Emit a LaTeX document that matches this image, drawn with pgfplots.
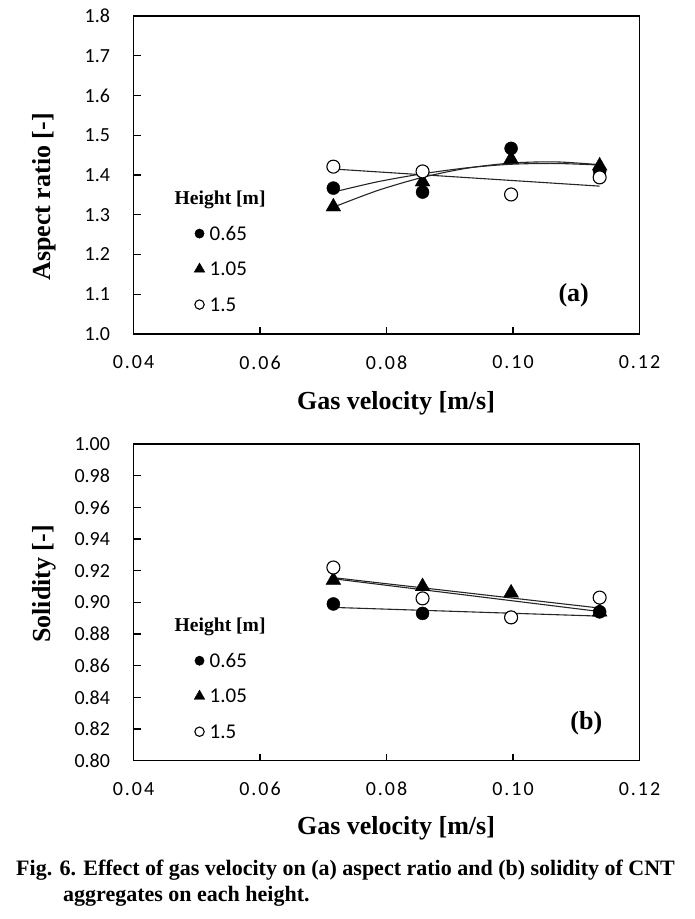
\documentclass[border=0pt]{standalone}
\usepackage{fontspec}
\setmainfont{Liberation Serif}
\newfontfamily\carl{Carlito}
\newfontfamily\carlx[LetterSpace=10]{Carlito}
\usepackage{pgfplots}
\pgfplotsset{compat=1.18}
\begin{document}
\begin{tikzpicture}
\useasboundingbox (0pt,0pt) rectangle (694pt,919pt);
\pgfplotsset{
  circ/.style={mark=*, mark size=6.5pt, mark options={fill=black, draw=black}},
  tri/.style={mark=triangle*, mark size=8.5pt, mark options={fill=black, draw=black}},
  ocirc/.style={mark=*, mark size=6.5pt, mark options={fill=white, draw=black, line width=1.1pt}},
  trend/.style={no marks, black!85, line width=1.1pt},
  common/.style={
    scale only axis, width=506pt,
    xmin=0.04, xmax=0.12, xtick={0.04,0.06,0.08,0.10,0.12},
    xtick pos=bottom, ytick pos=left, tick align=inside,
    major tick length=7pt,
    axis line style={line width=1.3pt, black},
    every tick/.style={line width=1.3pt, black},
    x tick label style={font=\carlx\fontsize{20}{24}\selectfont, yshift=-18pt,
      /pgf/number format/.cd, fixed, fixed zerofill, precision=2, assume math mode=true},
    legend style={draw=none, fill=none, font=\carl\fontsize{21}{25}\selectfont,
      row sep=17.5pt, inner sep=0pt, cells={anchor=west},
      nodes={inner sep=0pt, text height=14pt, text depth=4pt}},
    legend image code/.code={\draw[#1, every mark/.append style={scale=0.72}] plot coordinates {(0pt,1.5pt)}; \path (10pt,1.5pt);},
  }
}
% ---------- (a) ----------
\begin{axis}[common, at={(133.5pt,585pt)}, anchor=south west, height=318pt,
  ymin=1.0, ymax=1.8, ytick={1.0,1.1,...,1.8},
  y tick label style={font=\carl\fontsize{20}{24}\selectfont, xshift=-20pt,
    /pgf/number format/.cd, fixed, fixed zerofill, precision=1, assume math mode=true},
  legend style={at={(axis description cs:0.1196,0.340)}, anchor=north west}]
\addlegendimage{only marks, circ}\addlegendentry{0.65}
\addlegendimage{only marks, tri}\addlegendentry{1.05}
\addlegendimage{only marks, ocirc}\addlegendentry{1.5}
\addplot[only marks, tri, forget plot] coordinates {(0.0716,1.320)(0.0857,1.383)(0.0997,1.440)(0.1137,1.423)};
\addplot[only marks, circ, forget plot] coordinates {(0.0716,1.367)(0.0857,1.357)(0.0997,1.467)(0.1137,1.410)};
\addplot[only marks, ocirc, forget plot] coordinates {(0.0716,1.421)(0.0857,1.409)(0.0997,1.351)(0.1137,1.394)};
\addplot[trend, smooth, forget plot] coordinates {(0.0716,1.357)(0.0786,1.383)(0.0857,1.403)(0.0927,1.418)(0.0997,1.427)(0.1067,1.429)(0.1137,1.425)};
\addplot[trend, smooth, forget plot] coordinates {(0.0716,1.319)(0.0786,1.361)(0.0857,1.394)(0.0927,1.417)(0.0997,1.430)(0.1067,1.433)(0.1137,1.426)};
\addplot[trend, forget plot] coordinates {(0.0716,1.415)(0.1137,1.372)};
\node[anchor=west, font=\bfseries\fontsize{19.6}{24}\selectfont, inner sep=0pt] at (axis description cs:0.081,0.423) {Height [m]};
\node[font=\bfseries\fontsize{26}{30}\selectfont] at (axis description cs:0.870,0.123) {(a)};
\end{axis}
% ---------- (b) ----------
\begin{axis}[common, at={(133.5pt,158.3pt)}, anchor=south west, height=316.7pt,
  ymin=0.80, ymax=1.00, ytick={0.80,0.82,...,1.001},
  y tick label style={font=\carl\fontsize{20}{24}\selectfont, xshift=-20pt,
    /pgf/number format/.cd, fixed, fixed zerofill, precision=2, assume math mode=true},
  legend style={at={(axis description cs:0.1196,0.340)}, anchor=north west}]
\addlegendimage{only marks, circ}\addlegendentry{0.65}
\addlegendimage{only marks, tri}\addlegendentry{1.05}
\addlegendimage{only marks, ocirc}\addlegendentry{1.5}
\addplot[only marks, tri, forget plot] coordinates {(0.0716,0.914)(0.0857,0.910)(0.0997,0.906)(0.1137,0.894)};
\addplot[only marks, circ, forget plot] coordinates {(0.0716,0.899)(0.0857,0.893)(0.0997,0.8905)(0.1137,0.894)};
\addplot[only marks, ocirc, forget plot] coordinates {(0.0716,0.922)(0.0857,0.9025)(0.0997,0.8905)(0.1137,0.903)};
\addplot[trend, forget plot] coordinates {(0.0716,0.8968)(0.1137,0.8913)};
\addplot[trend, forget plot] coordinates {(0.0716,0.9156)(0.1137,0.8964)};
\addplot[trend, forget plot] coordinates {(0.0716,0.9149)(0.1137,0.8942)};
\node[anchor=west, font=\bfseries\fontsize{19.6}{24}\selectfont, inner sep=0pt] at (axis description cs:0.081,0.423) {Height [m]};
\node[font=\bfseries\fontsize{26}{30}\selectfont] at (axis description cs:0.895,0.119) {(b)};
\end{axis}
% ---------- titles ----------
\node[rotate=90, font=\bfseries\fontsize{26}{30}\selectfont] at (44pt,722pt) {Aspect ratio [-]};
\node[rotate=90, font=\bfseries\fontsize{26}{30}\selectfont] at (44pt,335pt) {Solidity [-]};
\node[font=\bfseries\fontsize{26}{30}\selectfont] at (396pt,516pt) {Gas velocity [m/s]};
\node[font=\bfseries\fontsize{26}{30}\selectfont] at (396pt,91pt) {Gas velocity [m/s]};
% ---------- caption ----------
\node[anchor=base west, font=\bfseries\fontsize{22}{26}\selectfont, inner sep=0pt] at (16pt,43pt) {Fig. 6. Effect of gas velocity on (a) aspect ratio and (b) solidity of CNT};
\node[anchor=base west, font=\bfseries\fontsize{22}{26}\selectfont, inner sep=0pt] at (63pt,17pt) {aggregates on each height.};
\end{tikzpicture}
\end{document}
